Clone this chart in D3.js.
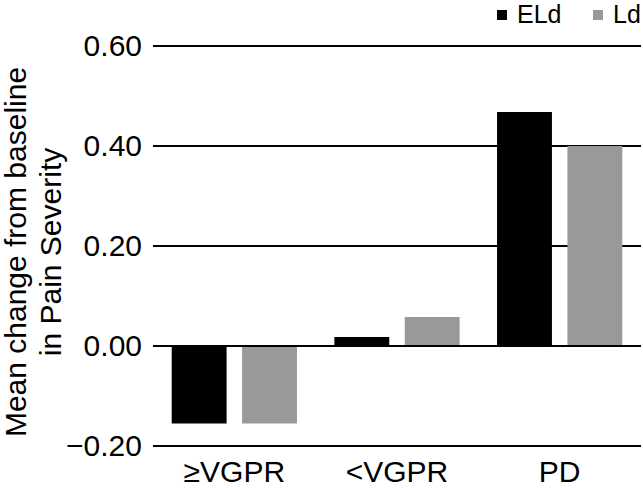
<!DOCTYPE html>
<html>
<head>
<meta charset="utf-8">
<script src="https://cdn.jsdelivr.net/npm/d3@7"></script>
<style>
  body { margin: 0; background: #fff; }
  text { font-family: "Liberation Sans", Arial, sans-serif; fill: #000; }
</style>
</head>
<body>
<svg id="chart"></svg>
<script>
const width = 643;
const height = 488;

// données
const categories = ["\u2265VGPR", "<VGPR", "PD"];
const series = ["ELd", "Ld"];
const eldValues = [-0.155, 0.018, 0.468];
const ldValues = [-0.155, 0.058, 0.40];
const yTicks = [-0.2, 0, 0.2, 0.4, 0.6];
const colors = ["#000000", "#999999"];

const margin = { top: 46, right: 2, bottom: 42, left: 153 };

const svg = d3.select("#chart").attr("width", width).attr("height", height);

const x0 = d3.scaleBand()
  .domain(categories)
  .range([margin.left, width - margin.right])
  .paddingInner(0.23)
  .paddingOuter(0.115);

const x1 = d3.scaleBand()
  .domain(series)
  .range([0, x0.bandwidth()])
  .paddingInner(0.22);

const y = d3.scaleLinear()
  .domain([-0.2, 0.6])
  .range([height - margin.bottom, margin.top]);

const color = d3.scaleOrdinal().domain(series).range(colors);

// lignes de grille
svg.append("g")
  .selectAll("line")
  .data(yTicks)
  .enter()
  .append("line")
  .attr("x1", margin.left)
  .attr("x2", width - margin.right)
  .attr("y1", d => y(d))
  .attr("y2", d => y(d))
  .attr("stroke", "#000")
  .attr("stroke-width", 2);

// axe y (étiquettes seulement)
const yAxis = svg.append("g")
  .attr("transform", `translate(${margin.left},0)`)
  .call(d3.axisLeft(y).tickValues(yTicks).tickSize(0).tickPadding(11)
    .tickFormat(d => d3.format(".2f")(d).replace("-", "\u2212")));
yAxis.select(".domain").remove();
yAxis.selectAll("text").style("font-size", "30px").attr("font-family", null);

// barres
const rows = categories.map((c, i) => ({ cat: c, values: [eldValues[i], ldValues[i]] }));

svg.append("g")
  .selectAll("g")
  .data(rows)
  .enter()
  .append("g")
  .attr("transform", d => `translate(${x0(d.cat)},0)`)
  .selectAll("rect")
  .data(d => series.map((s, j) => ({ key: s, value: d.values[j] })))
  .enter()
  .append("rect")
  .attr("x", d => x1(d.key))
  .attr("width", x1.bandwidth())
  .attr("y", d => y(Math.max(0, d.value)))
  .attr("height", d => Math.abs(y(d.value) - y(0)))
  .attr("fill", d => color(d.key));

// ligne zéro par-dessus
svg.append("line")
  .attr("x1", margin.left)
  .attr("x2", width - margin.right)
  .attr("y1", y(0))
  .attr("y2", y(0))
  .attr("stroke", "#000")
  .attr("stroke-width", 2);

// axe x
const xAxis = svg.append("g")
  .attr("transform", `translate(0,${height - margin.bottom})`)
  .call(d3.axisBottom(x0).tickSize(0).tickPadding(15));
xAxis.select(".domain").remove();
xAxis.selectAll("text").style("font-size", "30px").attr("font-family", null);

// titre de l'axe y
const yTitle = svg.append("text")
  .attr("transform", "translate(4,252) rotate(-90)")
  .attr("text-anchor", "middle")
  .style("font-size", "30px");
yTitle.append("tspan").attr("x", 0).attr("y", 22).text("Mean change from baseline");
yTitle.append("tspan").attr("x", 0).attr("y", 57).text("in Pain Severity");

// légende
const legendX = [497, 593];
const legend = svg.append("g")
  .selectAll("g")
  .data(series)
  .enter()
  .append("g")
  .attr("transform", (d, i) => `translate(${legendX[i]},0)`);

legend.append("rect")
  .attr("y", 10)
  .attr("width", 10)
  .attr("height", 10)
  .attr("fill", d => color(d));

legend.append("text")
  .attr("x", 20)
  .attr("y", 23)
  .style("font-size", "25px")
  .text(d => d);
</script>
</body>
</html>
